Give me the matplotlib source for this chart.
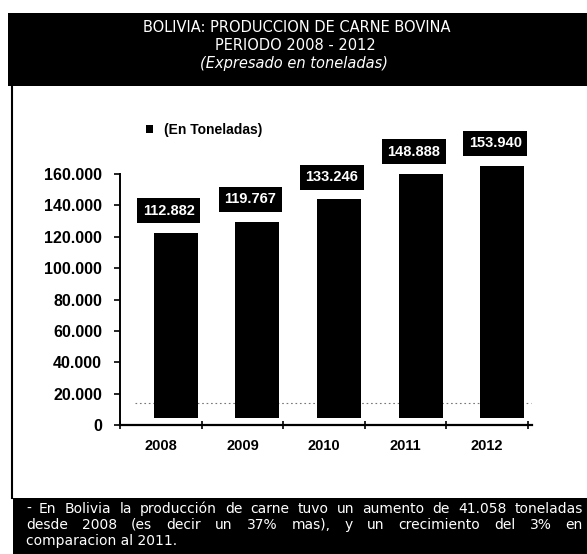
import numpy as np
import matplotlib
matplotlib.use("Agg")
import matplotlib.pyplot as plt
from matplotlib.patches import Rectangle
from matplotlib.ticker import FuncFormatter, FixedLocator

# datos: produccion de carne bovina en Bolivia (toneladas)
anios = ["2008", "2009", "2010", "2011", "2012"]
produccion = [112882, 119767, 133246, 148888, 153940]
etiquetas = ["112.882", "119.767", "133.246", "148.888", "153.940"]
yticks = [0, 20000, 40000, 60000, 80000, 100000, 120000, 140000, 160000]

titulo = ["BOLIVIA: PRODUCCION DE CARNE BOVINA", "PERIODO 2008 - 2012"]
subtitulo = "(Expresado en toneladas)"
nota = ["- En Bolivia la producción de carne tuvo un aumento de 41.058 toneladas",
        "desde 2008 (es decir un 37% mas), y un crecimiento del 3% en",
        "comparacion al 2011."]

W, H = 587, 554
fig = plt.figure(figsize=(W / 100, H / 100), dpi=100)
fig.patch.set_facecolor("white")


def fx(x):
    return x / W


def fy(y):
    return 1 - y / H


# bandas negras
fig.patches.append(Rectangle((fx(8), fy(86)), fx(579), 73 / H, transform=fig.transFigure,
                             facecolor="black", edgecolor="none"))
fig.patches.append(Rectangle((fx(13), 0), fx(574), 56 / H, transform=fig.transFigure,
                             facecolor="black", edgecolor="none"))
# borde izquierdo
fig.add_artist(plt.Line2D([fx(12), fx(12)], [fy(86), fy(498)], transform=fig.transFigure,
                          color="black", lw=1.5))

# titulo
fig.text(fx(297), fy(27), titulo[0], color="white", fontsize=10.5, ha="center", va="center",
         family="DejaVu Sans")
fig.text(fx(295), fy(45), titulo[1], color="white", fontsize=10.5, ha="center", va="center",
         family="DejaVu Sans")
fig.text(fx(294), fy(63), subtitulo, color="white", fontsize=10.5, ha="center", va="center",
         style="italic", family="DejaVu Sans")

# eje principal (escala)
ax = fig.add_axes([fx(120), fy(425), 408 / W, 251 / H])
ax.set_xlim(-0.5, 4.5)
ax.set_ylim(0, 160000)
ax.patch.set_alpha(0)
for s in ["top", "right"]:
    ax.spines[s].set_visible(False)
ax.spines["left"].set_linewidth(1.4)
ax.spines["bottom"].set_linewidth(1.6)
ax.spines["bottom"].set_bounds(-0.5, 4.55)
ax.set_yticks(yticks)
ax.yaxis.set_major_formatter(FuncFormatter(lambda v, p: f"{v:,.0f}".replace(",", ".")))
ax.tick_params(axis="y", direction="out", length=4, width=1.2, pad=9, labelsize=11.5)
ax.xaxis.set_major_locator(FixedLocator(np.arange(-0.5, 5, 1)))
ax.xaxis.set_minor_locator(FixedLocator(np.arange(5)))
ax.set_xticklabels([], minor=False)
ax.set_xticklabels(anios, minor=True)
ax.tick_params(axis="x", which="major", direction="inout", length=6, width=1.2)
ax.tick_params(axis="x", which="minor", length=0, pad=10, labelsize=10.5)
for lab in ax.get_yticklabels() + ax.get_xticklabels(minor=True):
    lab.set_fontweight("bold")
    lab.set_family("Liberation Sans")

# eje de barras (efecto 3D desplazado)
ax2 = fig.add_axes([fx(135), fy(418), 408 / W, 262.4 / H])
ax2.set_xlim(-0.5, 4.5)
ax2.set_ylim(0, 160000)
ax2.axis("off")
ax2.axhline(9000, xmin=0.0, xmax=0.97, color="#777777", lw=0.8, ls=(0, (1.5, 2.5)), zorder=0)
barras = ax2.bar(range(len(anios)), produccion, width=0.54, color="black",
                 label="(En Toneladas)", zorder=2)
for i, (v, t) in enumerate(zip(produccion, etiquetas)):
    ax2.annotate(t, (i, v), xytext=(-5, 16), textcoords="offset points", ha="center",
                 va="center", color="white", fontsize=10.5, fontweight="bold",
                 family="Liberation Sans",
                 bbox=dict(boxstyle="square,pad=0.38", facecolor="black", edgecolor="none"))

leg = ax2.legend(loc="center left", bbox_to_anchor=(fx(133), fy(130)),
                 bbox_transform=fig.transFigure, frameon=False, handlelength=0.55,
                 handleheight=0.55, handletextpad=0.8,
                 prop={"family": "Liberation Sans", "weight": "bold", "size": 10})

# nota inferior, justificada
fig.canvas.draw()
rend = fig.canvas.get_renderer()


def justificar(linea, y, x0, x1):
    palabras = linea.split(" ")
    objs = [fig.text(0, fy(y), w, color="white", fontsize=10, va="baseline",
                     family="DejaVu Sans") for w in palabras]
    anchos = [o.get_window_extent(rend).width for o in objs]
    gap = (x1 - x0 - sum(anchos)) / (len(objs) - 1)
    x = x0
    for o, a in zip(objs, anchos):
        o.set_x(fx(x))
        x += a + gap


justificar(nota[0], 513, 26, 583)
justificar(nota[1], 529, 26, 583)
fig.text(fx(26), fy(545), nota[2], color="white", fontsize=10, va="baseline",
         family="DejaVu Sans")

fig.savefig("out.png", dpi=100, facecolor="white")
